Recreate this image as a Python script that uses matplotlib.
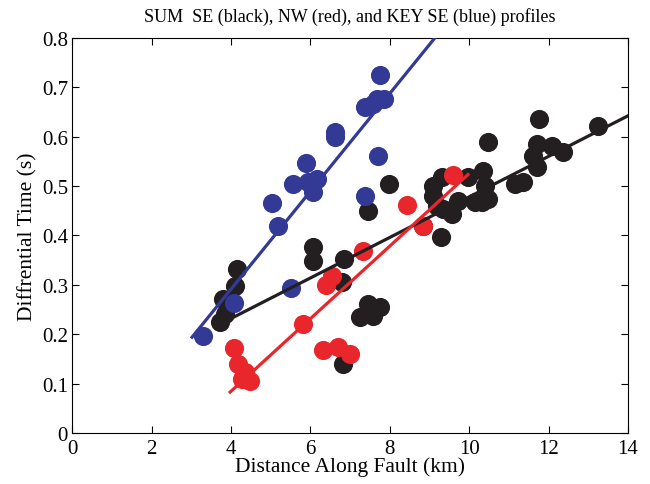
# Differential time vs distance along fault for three profiles

import matplotlib
matplotlib.use('Agg')
import matplotlib.pyplot as plt

plt.rcParams['font.family'] = ['Liberation Serif', 'DejaVu Serif']

# SUM SE (black)
black_x = [6.07, 6.07, 6.85, 4.16, 4.10, 3.80, 3.73, 3.85, 6.80, 7.45, 7.76, 7.25,
           7.58, 6.82, 7.98, 7.45, 11.76, 13.25, 10.48, 11.71, 12.09, 12.37, 11.61,
           11.71, 11.36, 11.16, 10.35, 10.40, 10.32, 10.48, 9.97, 9.32, 9.09, 9.09,
           9.34, 9.57, 9.72, 10.15, 8.84, 9.29, 9.19]
black_y = [0.376, 0.348, 0.352, 0.332, 0.298, 0.271, 0.225, 0.241, 0.306, 0.261, 0.255,
           0.235, 0.237, 0.140, 0.504, 0.450, 0.636, 0.622, 0.589, 0.585, 0.582, 0.569,
           0.561, 0.539, 0.508, 0.504, 0.531, 0.500, 0.468, 0.474, 0.518, 0.518, 0.500,
           0.480, 0.453, 0.443, 0.470, 0.468, 0.419, 0.397, 0.460]

# NW (red)
red_x = [7.33, 6.40, 6.55, 5.82, 4.08, 4.18, 4.36, 4.48, 4.28, 6.32, 6.70, 7.00,
         8.44, 9.59, 8.84]
red_y = [0.369, 0.300, 0.318, 0.221, 0.172, 0.140, 0.124, 0.105, 0.109, 0.168, 0.174,
         0.160, 0.462, 0.523, 0.419]

# KEY SE (blue)
blue_x = [7.76, 7.38, 7.68, 7.86, 7.58, 6.62, 6.62, 7.71, 5.89, 5.57, 6.17, 6.07,
          5.94, 7.38, 5.04, 5.19, 5.51, 4.08, 3.30]
blue_y = [0.725, 0.660, 0.676, 0.676, 0.666, 0.610, 0.600, 0.561, 0.547, 0.504, 0.514,
          0.488, 0.508, 0.480, 0.466, 0.419, 0.293, 0.263, 0.197]

# fitted lines (end points)
black_fit_x = [3.98, 14.0]
black_fit_y = [0.231, 0.642]
red_fit_x = [3.98, 9.97]
red_fit_y = [0.083, 0.523]
blue_fit_x = [3.02, 9.14]
blue_fit_y = [0.194, 0.800]

black = '#231f20'
red = '#e8262c'
blue = '#333a96'

fig = plt.figure(figsize=(6.5, 4.85), dpi=100)
ax = fig.add_axes([0.111, 0.105, 0.855, 0.815])

ax.scatter(black_x, black_y, s=190, color=black, zorder=2, linewidths=0)
ax.scatter(red_x, red_y, s=190, color=red, zorder=2, linewidths=0)
ax.scatter(blue_x, blue_y, s=190, color=blue, zorder=2, linewidths=0)
ax.plot(black_fit_x, black_fit_y, color=black, lw=2.3, zorder=3)
ax.plot(red_fit_x, red_fit_y, color=red, lw=2.3, zorder=3)
ax.plot(blue_fit_x, blue_fit_y, color=blue, lw=2.3, zorder=3)

ax.set_xlim(0, 14)
ax.set_ylim(0, 0.8)
ax.set_xticks(range(0, 15, 2))
ax.set_yticks([i / 10 for i in range(9)])
ax.set_yticklabels(['0'] + ['%.1f' % (i / 10) for i in range(1, 9)])
ax.tick_params(direction='in', top=True, right=True, labelsize=15, length=5)
ax.tick_params(axis='x', pad=4)
ax.tick_params(axis='y', pad=3)
ax.set_xlabel('Distance Along Fault (km)', fontsize=15.5, labelpad=-1)
ax.set_ylabel('Diffrential Time (s)', fontsize=15.5, labelpad=3)
ax.set_title('SUM  SE (black), NW (red), and KEY SE (blue) profiles', fontsize=13, pad=12)

fig.savefig('out.png', dpi=100)
